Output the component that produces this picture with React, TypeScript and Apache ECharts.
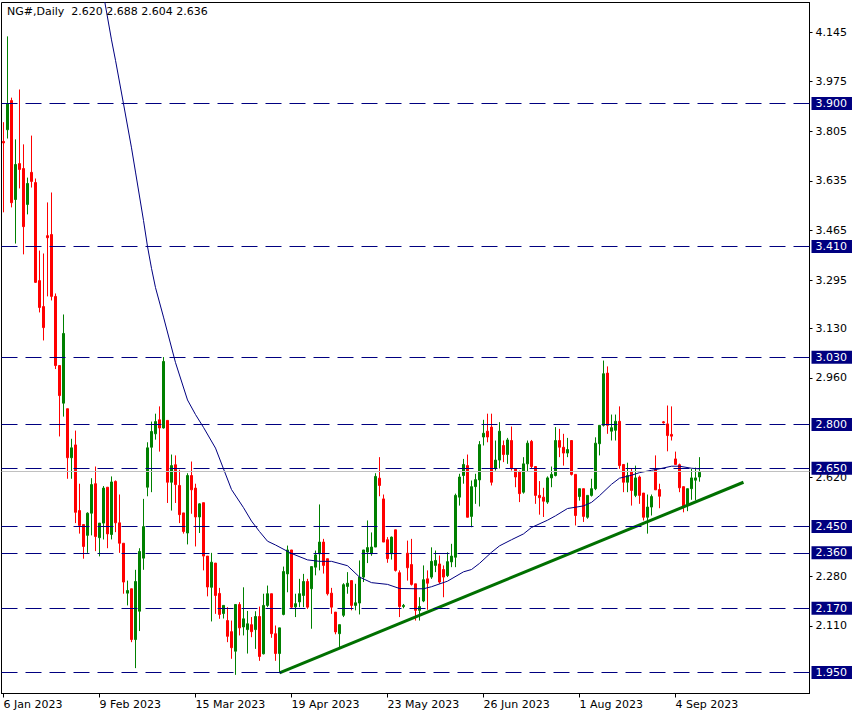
import React, { useEffect, useRef } from "react";
import * as echarts from "echarts";

const FONT = '"DejaVu Sans", Verdana, sans-serif';
const SLOT_COUNT = 202;
const Y_MIN = 1.87807;
const Y_MAX = 4.24613;

const opens = [
  3.770, 3.810, 3.910, 3.571, 3.694, 3.677, 3.554, 3.664, 3.629, 3.293,
  3.204, 3.447, 3.451, 3.239, 3.002, 2.873, 2.854, 2.686, 2.730, 2.505,
  2.457, 2.420, 2.496, 2.597, 2.412, 2.462, 2.585, 2.423, 2.605, 2.463,
  2.393, 2.222, 2.237, 2.063, 2.160, 2.342, 2.585, 2.722, 2.768, 2.816,
  2.788, 2.814, 2.602, 2.662, 2.591, 2.497, 2.428, 2.625, 2.582, 2.483,
  2.532, 2.349, 2.242, 2.325, 2.221, 2.152, 2.128, 2.090, 2.023, 2.183,
  2.106, 2.097, 2.114, 2.097, 2.142, 2.014, 2.180, 2.220, 2.083, 2.015,
  2.149, 2.288, 2.370, 2.175, 2.192, 2.214, 2.262, 2.237, 2.311, 2.357,
  2.397, 2.340, 2.222, 2.157, 2.083, 2.146, 2.245, 2.265, 2.180, 2.188,
  2.277, 2.363, 2.357, 2.380, 2.616, 2.545, 2.405, 2.357, 2.439, 2.292,
  2.176, 2.359, 2.320, 2.254, 2.163, 2.195, 2.271, 2.277, 2.317, 2.322,
  2.303, 2.282, 2.329, 2.345, 2.551, 2.625, 2.659, 2.485, 2.587, 2.610,
  2.757, 2.777, 2.791, 2.649, 2.678, 2.728, 2.697, 2.745, 2.649, 2.637,
  2.568, 2.665, 2.742, 2.656, 2.557, 2.551, 2.534, 2.617, 2.625, 2.745,
  2.722, 2.702, 2.745, 2.629, 2.553, 2.580, 2.482, 2.557, 2.580, 2.734,
  2.797, 2.976, 2.777, 2.780, 2.811, 2.663, 2.602, 2.637, 2.557, 2.620,
  2.565, 2.482, 2.517, 2.646, 2.577, 2.809, 2.802, 2.766, 2.682, 2.662,
  2.587, 2.522, 2.580, 2.609, 2.620,
];
const closes = [
  3.765, 3.900, 3.560, 3.691, 3.674, 3.478, 3.626, 3.633, 3.287, 3.201,
  3.132, 3.440, 3.239, 3.002, 2.899, 3.112, 2.686, 2.720, 2.499, 2.454,
  2.382, 2.496, 2.594, 2.416, 2.462, 2.582, 2.425, 2.603, 2.463, 2.393,
  2.260, 2.231, 2.063, 2.262, 2.365, 2.450, 2.720, 2.776, 2.810, 2.788,
  3.016, 2.602, 2.659, 2.594, 2.491, 2.433, 2.625, 2.576, 2.483, 2.528,
  2.349, 2.243, 2.328, 2.214, 2.149, 2.180, 2.074, 2.035, 2.183, 2.103,
  2.134, 2.117, 2.090, 2.142, 2.005, 2.180, 2.220, 2.083, 2.015, 2.103,
  2.296, 2.370, 2.174, 2.186, 2.220, 2.262, 2.174, 2.313, 2.353, 2.397,
  2.317, 2.220, 2.174, 2.089, 2.114, 2.251, 2.256, 2.180, 2.189, 2.277,
  2.370, 2.378, 2.380, 2.622, 2.591, 2.397, 2.340, 2.414, 2.300, 2.176,
  2.180, 2.309, 2.252, 2.163, 2.176, 2.268, 2.256, 2.331, 2.334, 2.260,
  2.277, 2.330, 2.349, 2.557, 2.620, 2.663, 2.482, 2.587, 2.611, 2.731,
  2.770, 2.757, 2.602, 2.678, 2.777, 2.697, 2.747, 2.649, 2.620, 2.563,
  2.665, 2.736, 2.656, 2.557, 2.549, 2.537, 2.617, 2.629, 2.745, 2.722,
  2.702, 2.714, 2.629, 2.488, 2.580, 2.485, 2.557, 2.580, 2.736, 2.797,
  2.974, 2.797, 2.789, 2.811, 2.659, 2.602, 2.625, 2.574, 2.617, 2.557,
  2.482, 2.517, 2.553, 2.576, 2.554, 2.806, 2.762, 2.760, 2.663, 2.583,
  2.519, 2.580, 2.617, 2.617, 2.636,
];
const lows = [
  3.527, 3.780, 3.544, 3.420, 3.609, 3.383, 3.520, 3.612, 3.285, 3.184,
  3.088, 3.239, 3.225, 2.990, 2.759, 2.827, 2.614, 2.614, 2.462, 2.426,
  2.340, 2.360, 2.420, 2.366, 2.348, 2.406, 2.376, 2.406, 2.431, 2.360,
  2.220, 2.180, 2.054, 1.965, 2.092, 2.302, 2.554, 2.568, 2.748, 2.707,
  2.786, 2.531, 2.505, 2.531, 2.462, 2.426, 2.389, 2.494, 2.382, 2.428,
  2.300, 2.211, 2.125, 2.151, 2.134, 2.135, 2.054, 1.997, 1.942, 2.077,
  2.077, 2.015, 2.071, 2.031, 1.990, 2.012, 2.174, 2.069, 1.990, 1.952,
  2.146, 2.225, 2.170, 2.140, 2.174, 2.174, 2.168, 2.100, 2.283, 2.300,
  2.289, 2.214, 2.151, 2.081, 2.035, 2.140, 2.220, 2.163, 2.163, 2.149,
  2.260, 2.325, 2.350, 2.380, 2.554, 2.397, 2.326, 2.337, 2.296, 2.140,
  2.170, 2.265, 2.248, 2.128, 2.128, 2.191, 2.165, 2.271, 2.294, 2.254,
  2.208, 2.277, 2.311, 2.311, 2.522, 2.597, 2.482, 2.448, 2.528, 2.519,
  2.728, 2.739, 2.591, 2.642, 2.649, 2.671, 2.665, 2.642, 2.585, 2.534,
  2.563, 2.637, 2.649, 2.528, 2.491, 2.483, 2.528, 2.585, 2.622, 2.688,
  2.659, 2.688, 2.625, 2.454, 2.539, 2.466, 2.477, 2.553, 2.575, 2.694,
  2.793, 2.768, 2.745, 2.745, 2.648, 2.568, 2.568, 2.522, 2.551, 2.528,
  2.471, 2.426, 2.488, 2.576, 2.513, 2.803, 2.708, 2.745, 2.663, 2.568,
  2.499, 2.503, 2.542, 2.540, 2.604,
];
const highs = [
  3.836, 4.130, 3.920, 3.777, 3.948, 3.760, 3.646, 3.790, 3.643, 3.396,
  3.386, 3.561, 3.595, 3.249, 3.002, 3.177, 2.854, 2.751, 2.779, 2.597,
  2.457, 2.499, 2.616, 2.656, 2.462, 2.589, 2.585, 2.622, 2.608, 2.560,
  2.393, 2.265, 2.237, 2.302, 2.376, 2.545, 2.739, 2.810, 2.837, 2.862,
  3.031, 2.814, 2.697, 2.694, 2.645, 2.497, 2.633, 2.673, 2.597, 2.530,
  2.532, 2.349, 2.360, 2.325, 2.240, 2.180, 2.174, 2.128, 2.183, 2.191,
  2.242, 2.161, 2.140, 2.160, 2.176, 2.220, 2.248, 2.220, 2.111, 2.103,
  2.313, 2.385, 2.370, 2.220, 2.271, 2.288, 2.271, 2.313, 2.368, 2.526,
  2.408, 2.340, 2.240, 2.157, 2.114, 2.256, 2.294, 2.265, 2.254, 2.334,
  2.370, 2.471, 2.430, 2.633, 2.688, 2.560, 2.414, 2.416, 2.439, 2.300,
  2.185, 2.402, 2.408, 2.254, 2.208, 2.317, 2.300, 2.379, 2.368, 2.351,
  2.317, 2.362, 2.391, 2.563, 2.631, 2.682, 2.697, 2.608, 2.631, 2.743,
  2.816, 2.837, 2.837, 2.745, 2.808, 2.745, 2.754, 2.793, 2.649, 2.642,
  2.688, 2.745, 2.747, 2.656, 2.606, 2.583, 2.622, 2.656, 2.791, 2.785,
  2.768, 2.754, 2.745, 2.629, 2.580, 2.580, 2.557, 2.614, 2.756, 2.797,
  3.019, 2.999, 2.834, 2.834, 2.862, 2.663, 2.669, 2.648, 2.659, 2.625,
  2.565, 2.560, 2.560, 2.694, 2.597, 2.812, 2.865, 2.862, 2.707, 2.666,
  2.587, 2.580, 2.648, 2.652, 2.688,
];

const maIdx = [
  24, 25, 27, 28, 30, 32, 33, 35, 36, 37, 38, 40, 43, 46, 48, 50, 53, 55, 57,
  60, 62, 64, 66, 68, 72, 76, 79, 82, 86, 89, 92, 96, 99, 103, 105, 107, 111,
  115, 117, 119, 122, 124, 127, 130, 132, 136, 138, 141, 145, 147, 149, 152,
  154, 157, 159, 162, 164, 167, 169, 172, 174,
];
const maVal = [
  4.35, 4.273, 4.118, 4.048, 3.899, 3.748, 3.665, 3.499, 3.41, 3.335, 3.269,
  3.168, 3.012, 2.884, 2.834, 2.79, 2.719, 2.648, 2.577, 2.515, 2.469, 2.433,
  2.4, 2.387, 2.358, 2.336, 2.331, 2.331, 2.316, 2.277, 2.258, 2.252, 2.238,
  2.237, 2.237, 2.244, 2.263, 2.295, 2.303, 2.324, 2.362, 2.384, 2.405, 2.425,
  2.447, 2.472, 2.487, 2.512, 2.521, 2.533, 2.556, 2.595, 2.616, 2.626, 2.635,
  2.643, 2.648, 2.657, 2.657, 2.65, 2.648,
];

const trendIdx = [69, 185];
const trendVal = [1.949, 2.602];

const levels = [3.9, 3.41, 3.03, 2.8, 2.65, 2.45, 2.36, 2.17, 1.95];
const lastPrice = 2.636;

const priceTicks = [4.145, 3.975, 3.805, 3.635, 3.465, 3.295, 3.13, 2.96, 2.62, 2.28, 2.11];
const tickIndex = [0, 24, 48, 72, 96, 120, 144, 168];
const tickLabels = [
  "6 Jan 2023", "9 Feb 2023", "15 Mar 2023", "19 Apr 2023",
  "23 May 2023", "26 Jun 2023", "1 Aug 2023", "4 Sep 2023",
];
const titleText = "NG#,Daily  2.620 2.688 2.604 2.636";

export default function App() {
  const ref = useRef<HTMLDivElement>(null);
  useEffect(() => {
    if (!ref.current) return;
    const chart = echarts.init(ref.current, null, { renderer: "svg" });
    const cats = Array.from({ length: SLOT_COUNT }, (_, i) => String(i));
    const candles = opens.map((o, i) => [o, closes[i], lows[i], highs[i]]);
    const ma: (number | null)[] = cats.map(() => null);
    maIdx.forEach((ix, j) => { ma[ix] = maVal[j]; });
    const trend: (number | null)[] = cats.map(() => null);
    trendIdx.forEach((ix, j) => { trend[ix] = trendVal[j]; });
    const isTick = (i: number) => tickIndex.indexOf(i) >= 0;

    chart.setOption({
      animation: false,
      backgroundColor: "#ffffff",
      textStyle: { fontFamily: FONT },
      graphic: [
        {
          type: "text",
          left: 7,
          top: 6,
          z: 100,
          style: { text: titleText, fill: "#000", fontSize: 11, fontFamily: FONT },
        },
      ],
      grid: {
        left: 1.5, top: 2.5, width: 808, height: 691,
        show: true, borderColor: "#000", borderWidth: 1, backgroundColor: "transparent",
      },
      xAxis: {
        type: "category",
        data: cats,
        boundaryGap: true,
        axisLine: { show: true, lineStyle: { color: "#000", width: 1 } },
        axisTick: {
          show: true, alignWithLabel: true, length: 4,
          interval: (i: number) => isTick(i),
          lineStyle: { color: "#000" },
        },
        axisLabel: {
          show: true,
          interval: (i: number) => isTick(i),
          formatter: (v: string) => {
            const k = tickIndex.indexOf(Number(v));
            return k >= 0 ? tickLabels[k] : "";
          },
          align: "left", margin: 5, color: "#000", fontSize: 11, fontFamily: FONT,
        },
        splitLine: { show: false },
      },
      yAxis: {
        type: "value",
        position: "right",
        min: Y_MIN,
        max: Y_MAX,
        axisLine: { show: true, lineStyle: { color: "#000" } },
        axisTick: { show: true, length: 3, customValues: priceTicks, lineStyle: { color: "#000" } },
        axisLabel: {
          show: true, customValues: priceTicks,
          formatter: (v: number) => v.toFixed(3),
          margin: 6, color: "#000", fontSize: 11, fontFamily: FONT,
        },
        splitLine: { show: false },
      },
      series: [
        {
          type: "line",
          name: "last",
          data: [],
          z: 1,
          silent: true,
          markLine: {
            symbol: ["none", "none"],
            silent: true,
            animation: false,
            label: { show: false },
            lineStyle: { color: "#c0c0c0", width: 1, type: "solid" },
            data: [{ yAxis: lastPrice }],
          },
        },
        {
          type: "candlestick",
          name: "NG#",
          data: candles,
          z: 3,
          barWidth: 2,
          silent: true,
          itemStyle: {
            color: "#008000", color0: "#ff0000",
            borderColor: "#008000", borderColor0: "#ff0000",
            borderWidth: 1,
          },
        },
        {
          type: "line",
          name: "MA",
          data: ma,
          z: 4,
          connectNulls: true,
          symbol: "none",
          silent: true,
          lineStyle: { color: "#000080", width: 1 },
        },
        {
          type: "line",
          name: "trend",
          data: trend,
          z: 4,
          connectNulls: true,
          symbol: "none",
          silent: true,
          lineStyle: { color: "#007000", width: 3 },
        },
        {
          type: "line",
          name: "levels",
          data: [],
          z: 5,
          silent: true,
          markLine: {
            symbol: ["none", "none"],
            silent: true,
            animation: false,
            lineStyle: { color: "#000080", width: 1, type: [16, 8] },
            label: {
              show: true,
              position: "end",
              distance: 2,
              formatter: (p: any) => Number(p.value).toFixed(3),
              color: "#ffffff",
              backgroundColor: "#000080",
              padding: [1, 5, 0, 4],
              lineHeight: 12,
              fontSize: 11,
              fontFamily: FONT,
            },
            data: levels.map((v) => ({ yAxis: v })),
          },
        },
      ],
    });
    return () => chart.dispose();
  }, []);
  return (
    <div
      ref={ref}
      style={{ position: "fixed", left: 0, top: 0, width: 860, height: 717, background: "#fff" }}
    />
  );
}
